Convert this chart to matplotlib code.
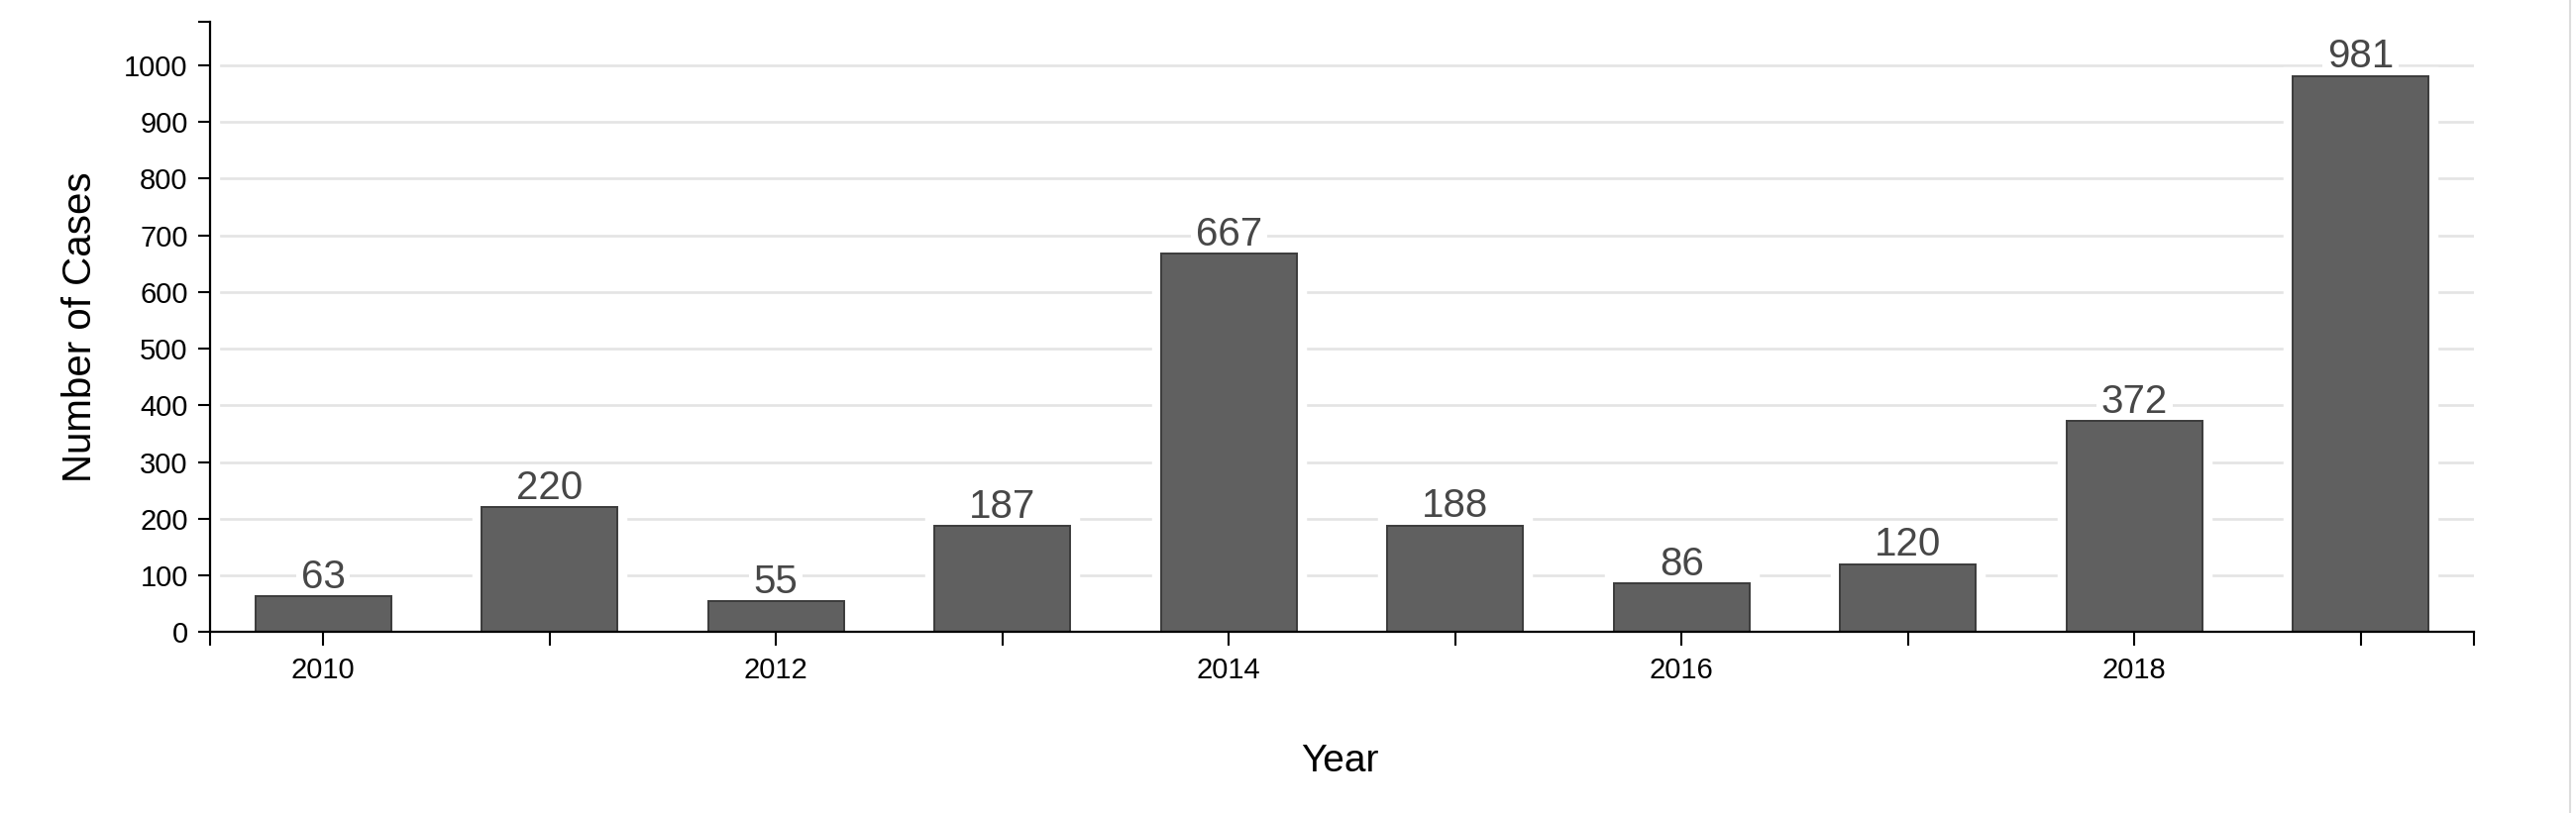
import matplotlib
matplotlib.use("Agg")
import matplotlib.pyplot as plt
from matplotlib.lines import Line2D

years = [2010, 2011, 2012, 2013, 2014, 2015, 2016, 2017, 2018, 2019]
cases = [63, 220, 55, 187, 667, 188, 86, 120, 372, 981]
y_ticks = [0, 100, 200, 300, 400, 500, 600, 700, 800, 900, 1000]
x_tick_labels = ["2010", "", "2012", "", "2014", "", "2016", "", "2018", ""]

plt.rcParams['font.family'] = ['Liberation Sans', 'DejaVu Sans']

fig = plt.figure(figsize=(26, 8.21), dpi=100)
ax = fig.add_axes([0.0815, 0.2223, 0.9604 - 0.0815, 0.9736 - 0.2223])

pos = list(range(len(years)))

# gridlines
for v in y_ticks:
    ax.axhline(v, xmin=0.005, xmax=1, color='#e4e4e4', lw=1.9, zorder=0.5)

# white halo around bars, then bars
ax.bar(pos, cases, width=0.6, color='white', edgecolor='white', linewidth=14, zorder=1)
ax.bar(pos, cases, width=0.6, color='#606060', edgecolor='#3c3c3c', linewidth=1.4, zorder=1.5)

for p, v in zip(pos, cases):
    ax.annotate(str(v), xy=(p, v), xytext=(0, 6), textcoords='offset points',
                ha='center', va='baseline', fontsize=29, color='#474747', zorder=1.2,
                bbox=dict(boxstyle='square,pad=0.12', fc='white', ec='none'))

ax.set_xlim(-0.5, 9.5)
ax.set_ylim(0, 1077)
ax.set_xticks(pos)
ax.set_xticklabels(x_tick_labels)
ax.set_yticks(y_ticks)
ax.set_yticklabels([str(v) for v in y_ticks])
ax.set_xticks([-0.5, 9.5], minor=True)
ax.set_yticks([1077], minor=True)

for s in ['top', 'right']:
    ax.spines[s].set_visible(False)
for s in ['left', 'bottom']:
    ax.spines[s].set_linewidth(1.6)
    ax.spines[s].set_color('black')
    ax.spines[s].set_zorder(4)

ax.tick_params(axis='x', which='both', direction='out', length=10, width=1.5, pad=8,
               labelsize=21, colors='black')
ax.tick_params(axis='y', which='both', direction='out', length=9, width=1.5, pad=7,
               labelsize=21, colors='black')

ax.set_xlabel('Year', fontsize=28, color='black')
ax.set_ylabel('Number of Cases', fontsize=29, color='black')
ax.xaxis.set_label_coords(0.499, -0.182)
ax.yaxis.set_label_coords(-0.049, 0.5)

# thin border line at right edge of screenshot
fig.add_artist(Line2D([0.9977, 0.9977], [0, 1], transform=fig.transFigure,
                      color='#dddddd', lw=1.5))

fig.savefig('out.png', dpi=100, facecolor='white')
